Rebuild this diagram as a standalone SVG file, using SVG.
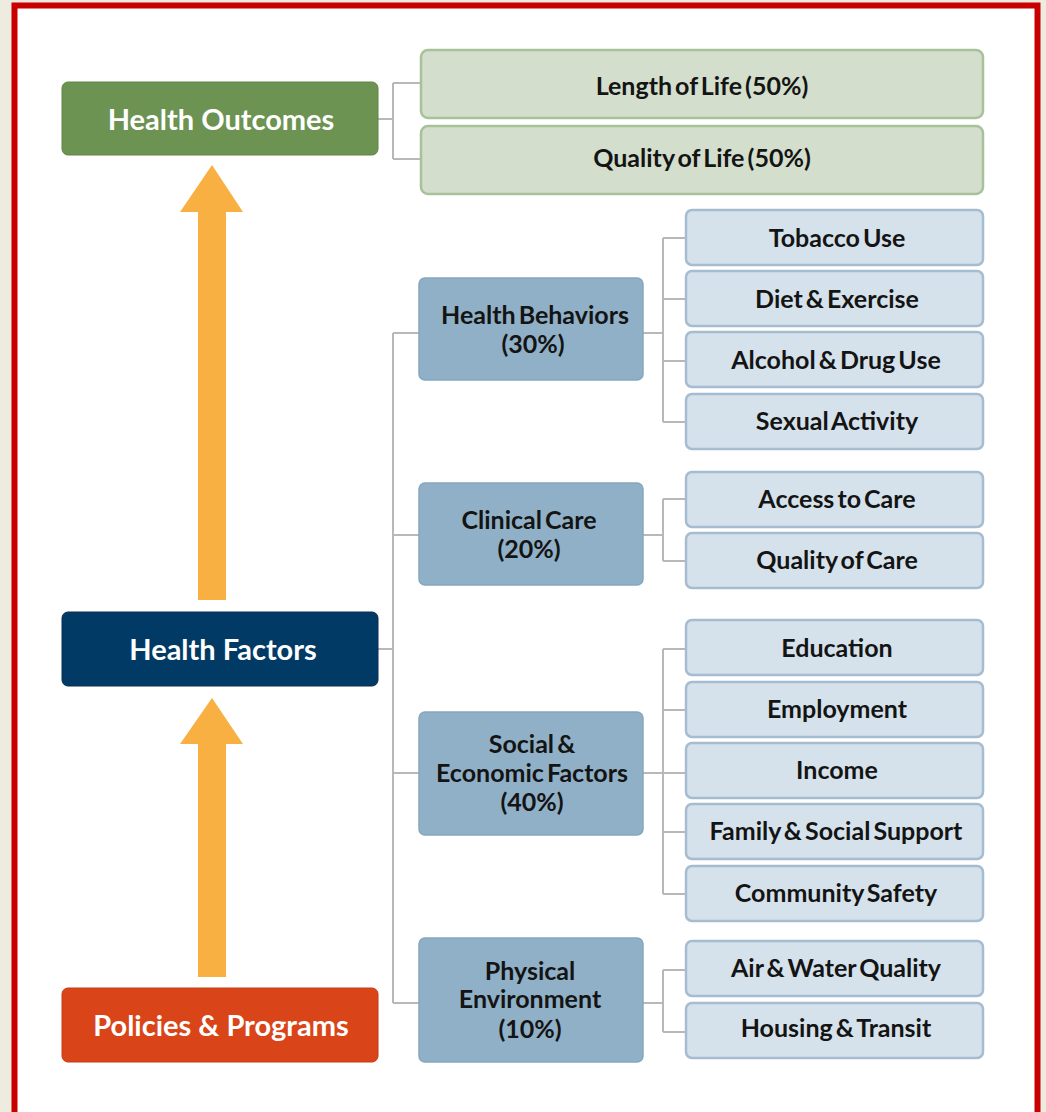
<svg xmlns="http://www.w3.org/2000/svg" width="1046" height="1112" viewBox="0 0 1046 1112">
<style>
text{font-family:Lato,"Open Sans","Liberation Sans",sans-serif;font-weight:700;text-anchor:middle}
.main text{fill:#ffffff;font-size:29px}
.out rect{fill:#d3decc;stroke:#a9c19a;stroke-width:2.5}
.mid rect{fill:#8fb0c7;stroke:#85a6be;stroke-width:1.5}
.leaf rect{fill:#d5e2eb;stroke:#a6bcd0;stroke-width:2.5}
.sub text{fill:#141414;font-size:25px;word-spacing:-3px}
.conn{fill:none;stroke:#b8b8b8;stroke-width:2}
.arrow{fill:#f9b042}
</style>
<rect x="0" y="0" width="1046" height="1112" fill="#eeebe1"/>
<rect x="14.5" y="5.5" width="1023" height="1120" fill="#ffffff" stroke="#c80000" stroke-width="6"/>

<g id="connectors" class="conn">
<path d="M378 119H393M393 83V159M393 83H421M393 159H421"/>
<path d="M378 649H393M393 333V1003M393 333H419M393 535H419M393 773H419M393 1003H419"/>
<path d="M643 333H663M663 238V422M663 238H686M663 299H686M663 361H686M663 422H686"/>
<path d="M643 535H663M663 499V561M663 499H686M663 561H686"/>
<path d="M643 773H686M663 649V894M663 649H686M663 710H686M663 832H686M663 894H686"/>
<path d="M643 1003H663M663 970V1032M663 970H686M663 1032H686"/>
</g>

<g id="arrows">
<polygon id="arrow-up-1" class="arrow" points="198,600 198,212 180,212 212,165 243,212 226,212 226,600"/>
<polygon id="arrow-up-2" class="arrow" points="198,977 198,744 180,744 212,698 243,744 226,744 226,977"/>
</g>

<g id="health-outcomes" class="main">
<rect x="62" y="82" width="316" height="73" rx="6" fill="#6c9352" stroke="#5f8547" stroke-width="1"/>
<text x="221" y="130">Health Outcomes</text>
</g>
<g id="health-factors" class="main">
<rect x="62" y="612" width="316" height="74" rx="6" fill="#023a66" stroke="#0a2f52" stroke-width="1"/>
<text x="223" y="660">Health Factors</text>
</g>
<g id="policies-programs" class="main">
<rect x="62" y="988" width="316" height="74" rx="6" fill="#d94519" stroke="#c43c14" stroke-width="1"/>
<text x="221" y="1036">Policies &amp; Programs</text>
</g>

<g id="length-of-life" class="sub out">
<rect x="421" y="50" width="562" height="68" rx="7"/>
<text x="702" y="95">Length of Life (50%)</text>
</g>
<g id="quality-of-life" class="sub out">
<rect x="421" y="126" width="562" height="68" rx="7"/>
<text x="702" y="167">Quality of Life (50%)</text>
</g>

<g id="health-behaviors" class="sub mid">
<rect x="419" y="278" width="224" height="102" rx="6"/>
<text x="535" y="324">Health Behaviors</text>
<text x="533" y="353">(30%)</text>
</g>
<g id="clinical-care" class="sub mid">
<rect x="419" y="483" width="224" height="102" rx="6"/>
<text x="529" y="529">Clinical Care</text>
<text x="529" y="558">(20%)</text>
</g>
<g id="social-economic" class="sub mid">
<rect x="419" y="712" width="224" height="123" rx="6"/>
<text x="532" y="753">Social &amp;</text>
<text x="532" y="782">Economic Factors</text>
<text x="532" y="811">(40%)</text>
</g>
<g id="physical-environment" class="sub mid">
<rect x="419" y="938" width="224" height="124" rx="6"/>
<text x="530" y="980">Physical</text>
<text x="530" y="1008">Environment</text>
<text x="530" y="1038">(10%)</text>
</g>

<g id="tobacco-use" class="sub leaf"><rect x="686" y="210" width="297" height="55" rx="6"/><text x="837" y="247">Tobacco Use</text></g>
<g id="diet-exercise" class="sub leaf"><rect x="686" y="271" width="297" height="55" rx="6"/><text x="837" y="308">Diet &amp; Exercise</text></g>
<g id="alcohol-drug-use" class="sub leaf"><rect x="686" y="332" width="297" height="55" rx="6"/><text x="836" y="369">Alcohol &amp; Drug Use</text></g>
<g id="sexual-activity" class="sub leaf"><rect x="686" y="394" width="297" height="55" rx="6"/><text x="837" y="430">Sexual Activity</text></g>

<g id="access-to-care" class="sub leaf"><rect x="686" y="472" width="297" height="55" rx="6"/><text x="837" y="508">Access to Care</text></g>
<g id="quality-of-care" class="sub leaf"><rect x="686" y="533" width="297" height="55" rx="6"/><text x="837" y="569">Quality of Care</text></g>

<g id="education" class="sub leaf"><rect x="686" y="620" width="297" height="55" rx="6"/><text x="837" y="657">Education</text></g>
<g id="employment" class="sub leaf"><rect x="686" y="682" width="297" height="55" rx="6"/><text x="837" y="718">Employment</text></g>
<g id="income" class="sub leaf"><rect x="686" y="743" width="297" height="55" rx="6"/><text x="837" y="779">Income</text></g>
<g id="family-social-support" class="sub leaf"><rect x="686" y="804" width="297" height="55" rx="6"/><text x="836" y="840">Family &amp; Social Support</text></g>
<g id="community-safety" class="sub leaf"><rect x="686" y="866" width="297" height="55" rx="6"/><text x="836" y="902">Community Safety</text></g>

<g id="air-water-quality" class="sub leaf"><rect x="686" y="941" width="297" height="55" rx="6"/><text x="836" y="977">Air &amp; Water Quality</text></g>
<g id="housing-transit" class="sub leaf"><rect x="686" y="1003" width="297" height="55" rx="6"/><text x="836" y="1037">Housing &amp; Transit</text></g>
</svg>
